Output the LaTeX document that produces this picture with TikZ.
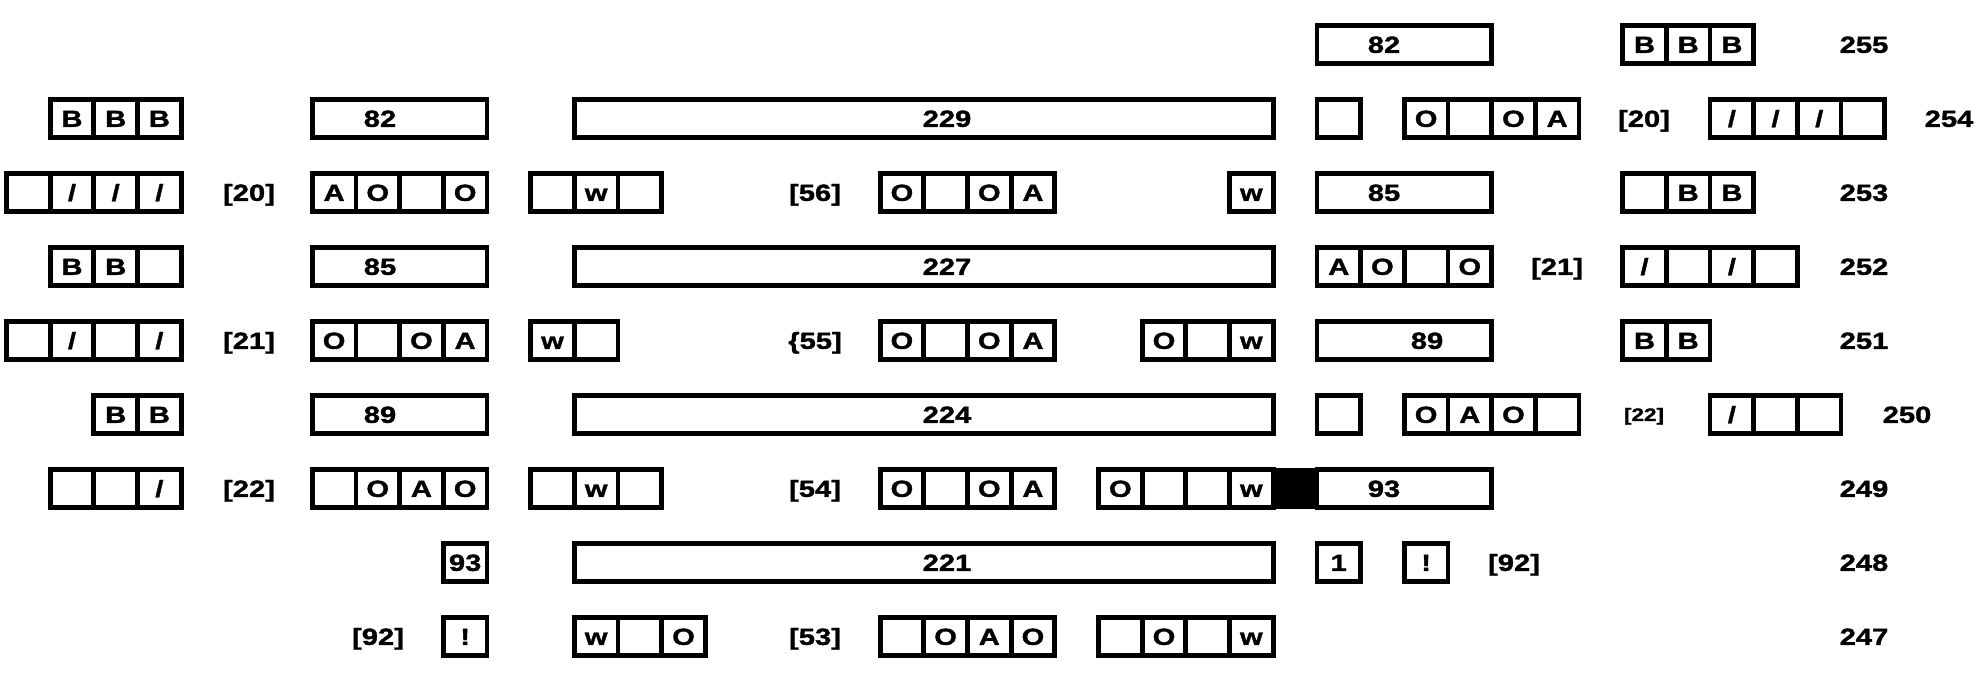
\documentclass[tikz,border=0pt]{standalone}
\usepackage{fontspec}
\setmainfont{Liberation Sans}[FakeStretch=1.25, BoldFeatures={FakeBold=1.5}]
\newcommand\rowy[1]{44.5+74*#1}
\tikzset{
  txt/.style={font=\bfseries\fontsize{23.3}{28}\selectfont, text height=16.7pt, text depth=0pt},
  cell/.style={txt, draw, line width=4.8pt, minimum width=43.68pt, minimum height=37.5pt, inner sep=0pt, outer sep=0pt},
  lbl/.style={txt, inner sep=0pt},
  smalllbl/.style={lbl, font=\bfseries\fontsize{18}{22}\selectfont, text height=12.9pt},
  blk/.style={fill=black, draw=none, minimum width=43.68pt, minimum height=41.5pt, inner sep=0pt}
}
% cells: row, start col, list
\newcommand\cells[3]{%
  \foreach \t [count=\i from 0] in {#3} {
    \pgfmathtruncatemacro\k{#2+\i}
    \node[cell] (c#1-\k) at ({28.34+43.68*(#2+\i)}, {\rowy{#1}}) {\t};
  }}
% wide box: row, col, n, text x, text
\newcommand\wbox[5]{%
  \node[cell, minimum width={43.68pt*#3}] (w#1-#2) at ({6.5+43.68*(#2+#3/2)}, {\rowy{#1}}) {};
  \node[lbl] (t#1-#2) at (#4, {\rowy{#1}}) {#5};}
% label: row, x, text
\newcommand\lab[3]{\node[lbl] (l#1-#2) at (#2, {\rowy{#1}}) {#3};}
\begin{document}
\begin{tikzpicture}[x=1pt, y=-1pt]
\useasboundingbox[fill=white] (0,0) rectangle (1986,684);
% black block row 249
\node[blk] (blk) at (1295.06, {\rowy{6}}) {};
% row 255
\wbox{0}{30}{4}{1384}{82}
\cells{0}{37}{B,B,B}
\lab{0}{1864}{255}
% row 254
\cells{1}{1}{B,B,B}
\wbox{1}{7}{4}{380}{82}
\wbox{1}{13}{16}{947}{229}
\cells{1}{30}{~}
\cells{1}{32}{O,~,O,A}
\lab{1}{1644}{[20]}
\cells{1}{39}{/,/,/,~}
\lab{1}{1949}{254}
% row 253
\cells{2}{0}{~,/,/,/}
\lab{2}{249}{[20]}
\cells{2}{7}{A,O,~,O}
\cells{2}{12}{~,w,~}
\lab{2}{815}{[56]}
\cells{2}{20}{O,~,O,A}
\cells{2}{28}{w}
\wbox{2}{30}{4}{1384}{85}
\cells{2}{37}{~,B,B}
\lab{2}{1864}{253}
% row 252
\cells{3}{1}{B,B,~}
\wbox{3}{7}{4}{380}{85}
\wbox{3}{13}{16}{947}{227}
\cells{3}{30}{A,O,~,O}
\lab{3}{1557}{[21]}
\cells{3}{37}{/,~,/,~}
\lab{3}{1864}{252}
% row 251
\cells{4}{0}{~,/,~,/}
\lab{4}{249}{[21]}
\cells{4}{7}{O,~,O,A}
\cells{4}{12}{w,~}
\lab{4}{815}{\{55]}
\cells{4}{20}{O,~,O,A}
\cells{4}{26}{O,~,w}
\wbox{4}{30}{4}{1427}{89}
\cells{4}{37}{B,B}
\lab{4}{1864}{251}
% row 250
\cells{5}{2}{B,B}
\wbox{5}{7}{4}{380}{89}
\wbox{5}{13}{16}{947}{224}
\cells{5}{30}{~}
\cells{5}{32}{O,A,O,~}
\node[smalllbl] (l5-1644) at (1644, {\rowy{5}}) {[22]};
\cells{5}{39}{/,~,~}
\lab{5}{1907}{250}
% row 249
\cells{6}{1}{~,~,/}
\lab{6}{249}{[22]}
\cells{6}{7}{~,O,A,O}
\cells{6}{12}{~,w,~}
\lab{6}{815}{[54]}
\cells{6}{20}{O,~,O,A}
\cells{6}{25}{O,~,~,w}
\wbox{6}{30}{4}{1384}{93}
\lab{6}{1864}{249}
% row 248
\cells{7}{10}{93}
\wbox{7}{13}{16}{947}{221}
\cells{7}{30}{1}
\cells{7}{32}{!}
\lab{7}{1514}{[92]}
\lab{7}{1864}{248}
% row 247
\lab{8}{378}{[92]}
\cells{8}{10}{!}
\cells{8}{13}{w,~,O}
\lab{8}{815}{[53]}
\cells{8}{20}{~,O,A,O}
\cells{8}{25}{~,O,~,w}
\lab{8}{1864}{247}
\end{tikzpicture}
\end{document}
